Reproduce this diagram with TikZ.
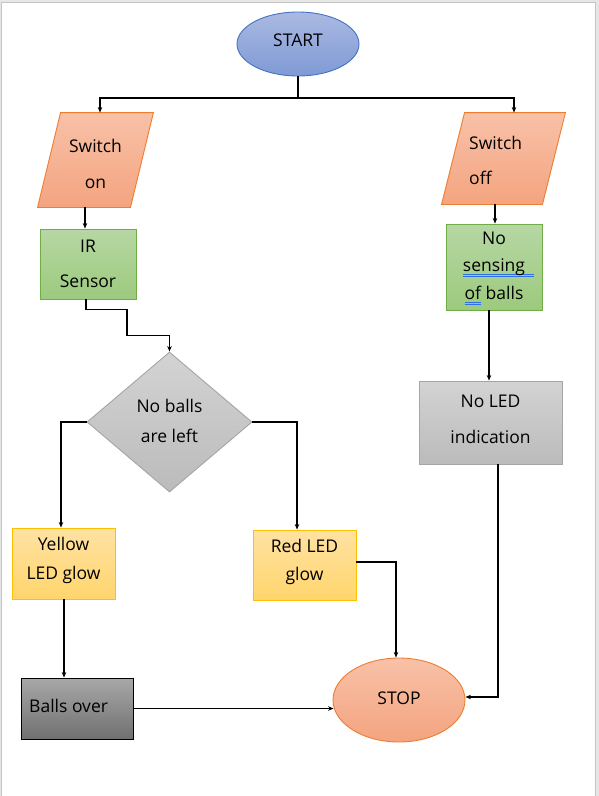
\documentclass[tikz,border=0pt]{standalone}
\usepackage{fontspec}
\setmainfont{Open Sans}
\usetikzlibrary{shapes.geometric,arrows.meta,calc}
\definecolor{pagebg}{HTML}{E6E6E6}
\definecolor{pageline}{HTML}{C4C4C4}
\definecolor{startT}{HTML}{AAB9E2}
\definecolor{startB}{HTML}{7F9AD5}
\definecolor{startL}{HTML}{4472C4}
\definecolor{salT}{HTML}{F8C1A8}
\definecolor{salB}{HTML}{F4A47F}
\definecolor{salL}{HTML}{ED7D31}
\definecolor{grnT}{HTML}{B6D7A4}
\definecolor{grnB}{HTML}{9CCA7D}
\definecolor{grnL}{HTML}{70AD47}
\definecolor{gryT}{HTML}{D3D3D3}
\definecolor{gryB}{HTML}{BBBBBB}
\definecolor{gryL}{HTML}{A5A5A5}
\definecolor{yelT}{HTML}{FFE2A3}
\definecolor{yelB}{HTML}{FFD56C}
\definecolor{yelL}{HTML}{FFC000}
\definecolor{dkT}{HTML}{A8A8A8}
\definecolor{dkB}{HTML}{707070}
\definecolor{ulblue}{HTML}{2F6FE8}
\newsavebox\spbox
\newcommand\spellmark[2][0pt]{\sbox\spbox{#2}\leavevmode\rlap{\color{ulblue}\rule[-3.4pt]{\dimexpr\wd\spbox+#1\relax}{0.7pt}}\rlap{\color{ulblue}\rule[-5.4pt]{\dimexpr\wd\spbox+#1\relax}{0.7pt}}\usebox\spbox}
\tikzset{
  box/.style={rectangle, inner sep=0pt, line width=0.9pt},
  txt/.style={inner sep=0pt, font=\fontsize{17.5}{21}\selectfont, text=black},
  conn/.style={line width=1.6pt, draw=black},
  arr/.style={conn, -{Stealth[length=5.5pt,width=4.5pt]}},
}
\begin{document}
\begin{tikzpicture}[x=1pt,y=-1pt]
\useasboundingbox (0,0) rectangle (599,796);
\fill[pagebg] (0,0) rectangle (599,796);
\draw[pageline, line width=1pt, fill=white] (1.5,2.5) rectangle (595,800);

% nodes
\node[ellipse, inner sep=0pt, minimum width=122pt, minimum height=64pt, draw=startL, line width=0.9pt, top color=startT, bottom color=startB] (start) at (298,44) {};

\node[box, minimum width=115pt, minimum height=94pt] (swon) at (95.5,160) {};
\path[draw=salL, line width=0.9pt, top color=salT, bottom color=salB]
  ([xshift=23pt]swon.north west) -- (swon.north east) -- ([xshift=-23pt]swon.south east) -- (swon.south west) -- cycle;

\node[box, minimum width=123pt, minimum height=91pt] (swoff) at (503.5,158.5) {};
\path[draw=salL, line width=0.9pt, top color=salT, bottom color=salB]
  ([xshift=23pt]swoff.north west) -- (swoff.north east) -- ([xshift=-23pt]swoff.south east) -- (swoff.south west) -- cycle;

\node[box, minimum width=96pt, minimum height=70pt, draw=grnL, top color=grnT, bottom color=grnB] (ir) at (88,264) {};
\node[box, minimum width=96pt, minimum height=86pt, draw=grnL, top color=grnT, bottom color=grnB] (nosens) at (494,267) {};
\node[diamond, inner sep=0pt, minimum width=165pt, minimum height=140pt, draw=gryL, line width=0.9pt, top color=gryT, bottom color=gryB] (dec) at (169.5,422) {};
\node[box, minimum width=143pt, minimum height=83pt, draw=gryL, top color=gryT, bottom color=gryB] (noled) at (490.5,422.5) {};
\node[box, minimum width=103pt, minimum height=71pt, draw=yelL, top color=yelT, bottom color=yelB] (yel) at (63.5,563.5) {};
\node[box, minimum width=103pt, minimum height=70pt, draw=yelL, top color=yelT, bottom color=yelB] (red) at (304.5,565) {};
\node[box, minimum width=112pt, minimum height=61pt, draw=black, top color=dkT, bottom color=dkB] (balls) at (77,708.5) {};
\node[ellipse, inner sep=0pt, minimum width=132pt, minimum height=84pt, draw=salL, line width=0.9pt, top color=salT, bottom color=salB] (stop) at (399,700) {};

% texts
\node[txt] (tstart) at ([yshift=4pt]start.center) {START};
\node[txt, align=center] (tswon) at ([yshift=-4pt]swon.center) {Switch\\[15pt]on};
\node[txt, align=left, anchor=west] (tswoff) at ([xshift=-34.5pt,yshift=-2pt]swoff.center) {Switch\\[14pt]off};
\node[txt, align=center] (tir) at (ir.center) {IR\\[14pt]Sensor};
\node[txt, align=center] (tnos) at ([yshift=-1pt]nosens.center) {No\\[6.5pt]\spellmark[9pt]{sensing}\\[6.5pt]\spellmark{of} balls};
\node[txt, align=center] (tdec) at ([yshift=1.5pt]dec.center) {No balls\\[9pt]are left};
\node[txt, align=center] (tnoled) at ([yshift=3pt]noled.center) {No LED\\[15pt]indication};
\node[txt, align=center] (tyel) at ([yshift=3pt]yel.center) {Yellow\\[8pt]LED glow};
\node[txt, align=center] (tred) at ([yshift=3pt]red.center) {Red LED\\[7pt]glow};
\node[txt, anchor=west] (tballs) at ([xshift=-48pt,yshift=3pt]balls.center) {Balls over};
\node[txt] (tstop) at ([yshift=1.5pt]stop.center) {STOP};

% connectors
\coordinate (split) at (298,98);
\draw[conn] (start.south) -- (split);
\draw[arr] (split) -| ([xshift=4.5pt]swon.north);
\draw[arr] (split) -| ([xshift=10.5pt]swoff.north);
\draw[arr] ([xshift=-10.5pt]swon.south) -- ([xshift=-3pt]ir.north);
\draw[arr] ([xshift=-8.5pt]swoff.south) -- ([xshift=1pt]nosens.north);
\draw[arr] ([xshift=-2pt]ir.south) -- ++(0,10) -- ++(41,0) -- ++(0,26) -| (dec.north);
\draw[arr] (dec.west) -| ([xshift=-2.5pt]yel.north);
\draw[arr] (dec.east) -| ([xshift=-7.5pt]red.north);
\draw[arr] ([xshift=0.5pt]yel.south) -- ([xshift=-13pt]balls.north);
\draw[arr] (balls.east) -- ([xshift=1pt]balls.east -| stop.west);
\draw[arr] ([yshift=3pt]red.east) -| ([xshift=-3pt]stop.north);
\draw[arr] ([xshift=-5pt]nosens.south) -- ([xshift=-1.5pt]noled.north);
\draw[arr] ([xshift=7.5pt]noled.south) |- ([yshift=3pt]stop.east);
\end{tikzpicture}
\end{document}
